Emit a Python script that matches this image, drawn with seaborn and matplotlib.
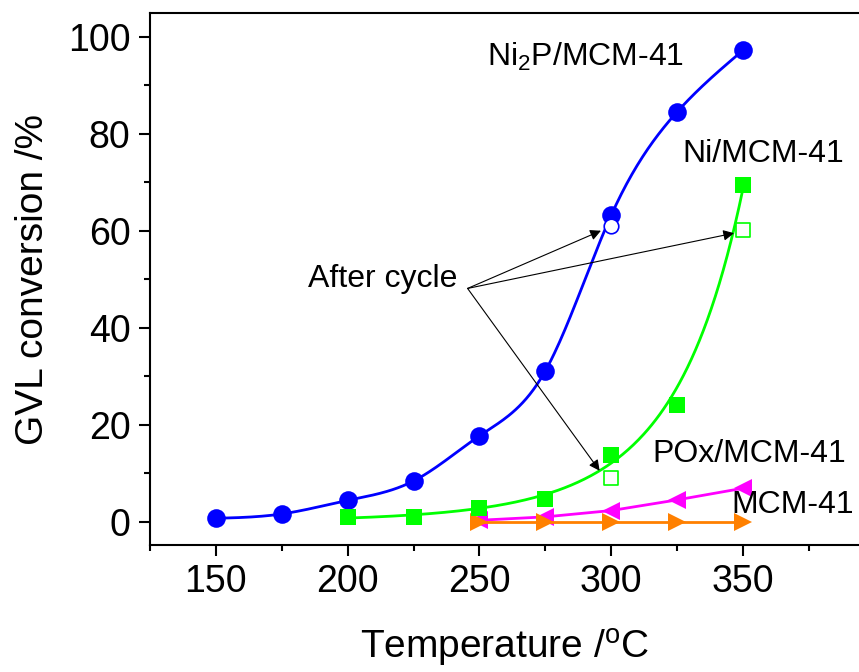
import numpy as np
import pandas as pd
import matplotlib
matplotlib.use("Agg")
import matplotlib.pyplot as plt
from matplotlib.ticker import MultipleLocator
import seaborn as sns

# Reaction temperature (°C) and GVL conversion (%) for each catalyst
temp_ni2p = [150, 175, 200, 225, 250, 275, 300, 325, 350]
conv_ni2p = [0.7, 1.6, 4.4, 8.4, 17.7, 31.1, 63.2, 84.5, 97.2]

temp_ni = [200, 225, 250, 275, 300, 325, 350]
conv_ni = [0.9, 1.0, 2.9, 4.6, 13.8, 24.1, 69.5]

temp_pox = [250, 275, 300, 325, 350]
conv_pox = [0.3, 1.0, 2.3, 4.5, 6.9]

temp_mcm = [250, 275, 300, 325, 350]
conv_mcm = [0.0, 0.0, 0.0, 0.0, 0.0]

# Recycled catalysts ("After cycle")
cycle_ni2p_temp = [300]
cycle_ni2p_conv = [61.0]
cycle_ni_temp = [300, 350]
cycle_ni_conv = [9.1, 60.1]

label_ni2p = "Ni$_2$P/MCM-41"
label_ni = "Ni/MCM-41"
label_pox = "POx/MCM-41"
label_mcm = "MCM-41"
label_cycle = "After cycle"

BLUE = "#0000FF"
GREEN = "#00FF00"
MAGENTA = "#FF00FF"
ORANGE = "#FF8000"


def natural_spline(x, y, n=300):
    """Natural cubic spline through (x, y), evaluated on a dense grid."""
    x = np.asarray(x, float)
    y = np.asarray(y, float)
    m = len(x)
    h = np.diff(x)
    A = np.zeros((m, m))
    b = np.zeros(m)
    A[0, 0] = A[-1, -1] = 1.0
    for i in range(1, m - 1):
        A[i, i - 1] = h[i - 1]
        A[i, i] = 2 * (h[i - 1] + h[i])
        A[i, i + 1] = h[i]
        b[i] = 3 * ((y[i + 1] - y[i]) / h[i] - (y[i] - y[i - 1]) / h[i - 1])
    c = np.linalg.solve(A, b)
    xs = np.linspace(x[0], x[-1], n)
    idx = np.clip(np.searchsorted(x, xs) - 1, 0, m - 2)
    dx = xs - x[idx]
    hi = h[idx]
    bi = (y[idx + 1] - y[idx]) / hi - hi * (2 * c[idx] + c[idx + 1]) / 3
    di = (c[idx + 1] - c[idx]) / (3 * hi)
    ys = y[idx] + bi * dx + c[idx] * dx ** 2 + di * dx ** 3
    return xs, ys


def log_poly_fit(x, y, deg=3, n=300):
    """Smooth trend: weighted polynomial least-squares fit of log(y)."""
    x = np.asarray(x, float)
    ly = np.log(np.asarray(y, float))
    w = np.ones_like(x)
    w[-3:] = [3.0, 3.0, 6.0]
    coef = np.polyfit(x, ly, deg, w=w)
    xs = np.linspace(x[0], x[-1], n)
    return xs, np.exp(np.polyval(coef, xs))


sns.set_style("ticks")
plt.rcParams["font.family"] = ["Liberation Sans", "DejaVu Sans"]
plt.rcParams["mathtext.fontset"] = "custom"
plt.rcParams["mathtext.rm"] = "Liberation Sans"
plt.rcParams["mathtext.it"] = "Liberation Sans"
plt.rcParams["text.color"] = "black"
plt.rcParams["axes.labelcolor"] = "black"

fig = plt.figure(figsize=(8.59, 6.72), dpi=100)
ax = fig.add_axes([0.1746, 0.189, 1.0 - 0.1746, 0.980 - 0.189])

# Smoothed trend curves
sx, sy = natural_spline(temp_ni2p, conv_ni2p)
sns.lineplot(x=sx, y=sy, ax=ax, color=BLUE, lw=2.0, zorder=2, estimator=None, sort=False)
gx, gy = log_poly_fit(temp_ni, conv_ni)
sns.lineplot(x=gx, y=gy, ax=ax, color=GREEN, lw=2.0, zorder=2, estimator=None, sort=False)

# Straight-segment series
sns.lineplot(x=temp_pox, y=conv_pox, ax=ax, color=MAGENTA, lw=2.0, marker="<",
             markersize=13, markeredgewidth=0, zorder=3, estimator=None)
sns.lineplot(x=temp_mcm, y=conv_mcm, ax=ax, color=ORANGE, lw=2.0, marker=">",
             markersize=13, markeredgewidth=0, zorder=4, estimator=None)

# Measured points
sns.scatterplot(x=temp_ni2p, y=conv_ni2p, ax=ax, color=BLUE, marker="o", s=180,
                linewidth=0, zorder=5)
sns.scatterplot(x=temp_ni, y=conv_ni, ax=ax, color=GREEN, marker="s", s=140,
                linewidth=0, zorder=5)

# Recycled catalyst points (open symbols)
sns.scatterplot(x=cycle_ni2p_temp, y=cycle_ni2p_conv, ax=ax, marker="o", s=110,
                facecolor="white", edgecolor=BLUE, linewidth=1.2, zorder=6)
sns.scatterplot(x=cycle_ni_temp, y=cycle_ni_conv, ax=ax, marker="s", s=95,
                facecolor="white", edgecolor=GREEN, linewidth=1.2, zorder=6)

# Series labels
txt = dict(fontsize=23, ha="left", va="baseline", color="black")
ax.text(253.0, 94.0, label_ni2p, **txt)
ax.text(326.9, 74.2, label_ni, **txt)
ax.text(315.5, 12.3, label_pox, **txt)
ax.text(345.5, 1.8, label_mcm, **txt)
ax.text(184.8, 48.4, label_cycle, **txt)

# Arrows from the "After cycle" note to the recycled points
arrow = dict(arrowstyle="-|>", color="black", lw=0.8, mutation_scale=16,
             shrinkA=0, shrinkB=0)
start = (245.5, 48.1)
for tip in [(296.1, 60.0), (346.6, 59.5), (295.6, 10.5)]:
    ax.annotate("", xy=tip, xytext=start, arrowprops=arrow, zorder=7)

ax.set_xlim(125, 394)
ax.set_ylim(-4.8, 104.8)
ax.xaxis.set_major_locator(MultipleLocator(50))
ax.xaxis.set_minor_locator(MultipleLocator(25))
ax.yaxis.set_major_locator(MultipleLocator(20))
ax.yaxis.set_minor_locator(MultipleLocator(10))
ax.set_xticks([150, 200, 250, 300, 350])

ax.tick_params(axis="both", which="major", direction="out", length=8, width=1.5,
               labelsize=27, pad=6, colors="black")
ax.tick_params(axis="both", which="minor", direction="out", length=4.5, width=1.5,
               colors="black")
ax.tick_params(top=False, right=False, which="both")

for side in ["left", "bottom", "top"]:
    ax.spines[side].set_linewidth(1.5)
    ax.spines[side].set_color("black")
ax.spines["right"].set_visible(False)

ax.set_xlabel("Temperature /$^\\mathregular{o}$C", fontsize=28, labelpad=19,
              color="black")
ax.set_ylabel("GVL conversion /%", fontsize=28, labelpad=12, color="black")

fig.savefig("out.png", dpi=100)
